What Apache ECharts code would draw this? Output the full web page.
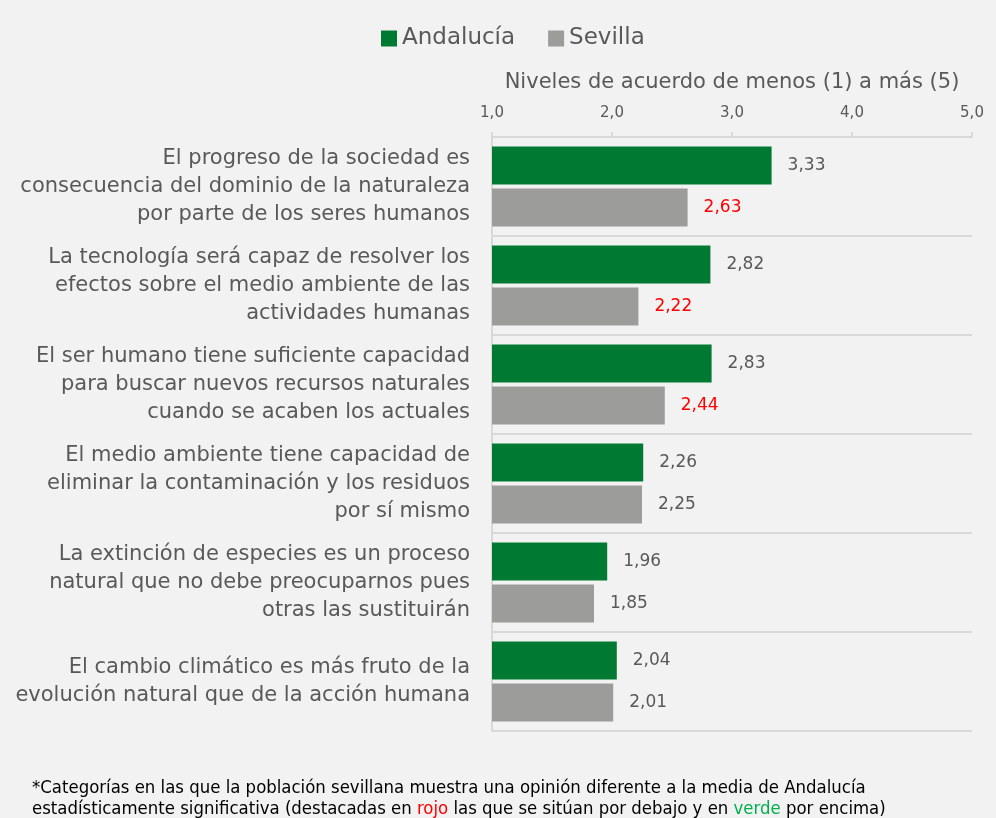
<!DOCTYPE html>
<html>
<head>
<meta charset="utf-8">
<script src="https://cdn.jsdelivr.net/npm/echarts@6/dist/echarts.min.js"></script>
<style>
  html, body { margin: 0; padding: 0; background: #f2f2f2; }
  #chart { width: 996px; height: 818px; }
</style>
</head>
<body>
<div id="chart"></div>
<script type="text/javascript">

var categories = [
    'El progreso de la sociedad es\nconsecuencia del dominio de la naturaleza\npor parte de los seres humanos',
    'La tecnología será capaz de resolver los\nefectos sobre el medio ambiente de las\nactividades humanas',
    'El ser humano tiene suficiente capacidad\npara buscar nuevos recursos naturales\ncuando se acaben los actuales',
    'El medio ambiente tiene capacidad de\neliminar la contaminación y los residuos\npor sí mismo',
    'La extinción de especies es un proceso\nnatural que no debe preocuparnos pues\notras las sustituirán',
    'El cambio climático es más fruto de la\nevolución natural que de la acción humana'
];
var andalucia = [3.33, 2.82, 2.83, 2.26, 1.96, 2.04];
var sevilla = [2.63, 2.22, 2.44, 2.25, 1.85, 2.01];
// Sevilla por debajo de la media, estadísticamente significativo
var sevillaBelow = [true, true, true, false, false, false];
var xTicks = [1, 2, 3, 4, 5];

var fontFam = '"DejaVu Sans", sans-serif';
var noteFam = '"Liberation Sans Narrow", "DejaVu Sans Condensed", sans-serif';
var txtColor = '#595959';

function fmt(v) {
    return v.toFixed(2).replace('.', ',');
}

var myChart = echarts.init(document.getElementById('chart'));

var sevillaData = sevilla.map(function (v, i) {
    return {
        value: v,
        label: sevillaBelow[i] ? { color: '#ff0000' } : {}
    };
});

option = {
    backgroundColor: '#f2f2f2',
    textStyle: { fontFamily: fontFam },
    legend: {
        top: 22,
        left: 376,
        icon: 'rect',
        itemWidth: 16,
        itemHeight: 16,
        itemGap: 33,
        textStyle: { fontSize: 23, color: txtColor, fontFamily: fontFam },
        data: ['Andalucía', 'Sevilla']
    },
    grid: {
        left: 492,
        right: 24,
        top: 137,
        bottom: 87
    },
    xAxis: {
        type: 'value',
        position: 'top',
        min: xTicks[0],
        max: xTicks[xTicks.length - 1],
        interval: 1,
        name: 'Niveles de acuerdo de menos (1) a más (5)',
        nameLocation: 'middle',
        nameGap: 44,
        nameTextStyle: { fontSize: 21, color: txtColor },
        axisLine: { show: true, lineStyle: { color: '#d9d9d9', width: 2 } },
        axisTick: { show: true, length: 5, lineStyle: { color: '#d9d9d9', width: 2 } },
        axisLabel: {
            fontSize: 15,
            color: txtColor,
            margin: 16,
            formatter: function (v) { return v.toFixed(1).replace('.', ','); }
        },
        splitLine: { show: false }
    },
    yAxis: {
        type: 'category',
        inverse: true,
        data: categories,
        axisLine: { show: true, lineStyle: { color: '#d9d9d9', width: 2 } },
        axisTick: { show: false },
        splitLine: { show: true, lineStyle: { color: '#d9d9d9', width: 2 } },
        axisLabel: {
            fontSize: 21,
            color: txtColor,
            lineHeight: 28,
            margin: 22,
            align: 'right'
        }
    },
    series: [
        {
            name: 'Andalucía',
            type: 'bar',
            data: andalucia,
            barWidth: 38,
            barGap: '10%',
            itemStyle: { color: '#007a33' },
            label: {
                show: true,
                position: 'right',
                distance: 16,
                fontSize: 17,
                color: txtColor,
                formatter: function (p) { return fmt(p.value); }
            }
        },
        {
            name: 'Sevilla',
            type: 'bar',
            data: sevillaData,
            barWidth: 38,
            itemStyle: { color: '#9c9c9a' },
            label: {
                show: true,
                position: 'right',
                distance: 16,
                fontSize: 17,
                color: txtColor,
                formatter: function (p) { return fmt(p.value); }
            }
        }
    ],
    graphic: [
        {
            type: 'text',
            left: 32,
            top: 778,
            style: {
                text: '*Categorías en las que la población sevillana muestra una opinión diferente a la media de Andalucía\n' +
                      'estadísticamente significativa (destacadas en {r|rojo} las que se sitúan por debajo y en {g|verde} por encima)',
                fontSize: 18.4,
                lineHeight: 21,
                fontFamily: noteFam,
                fill: '#000',
                rich: {
                    r: { fill: '#ff0000', fontSize: 18.4, fontFamily: noteFam },
                    g: { fill: '#00b050', fontSize: 18.4, fontFamily: noteFam }
                }
            }
        }
    ]
};

myChart.setOption(option);

</script>
</body>
</html>
